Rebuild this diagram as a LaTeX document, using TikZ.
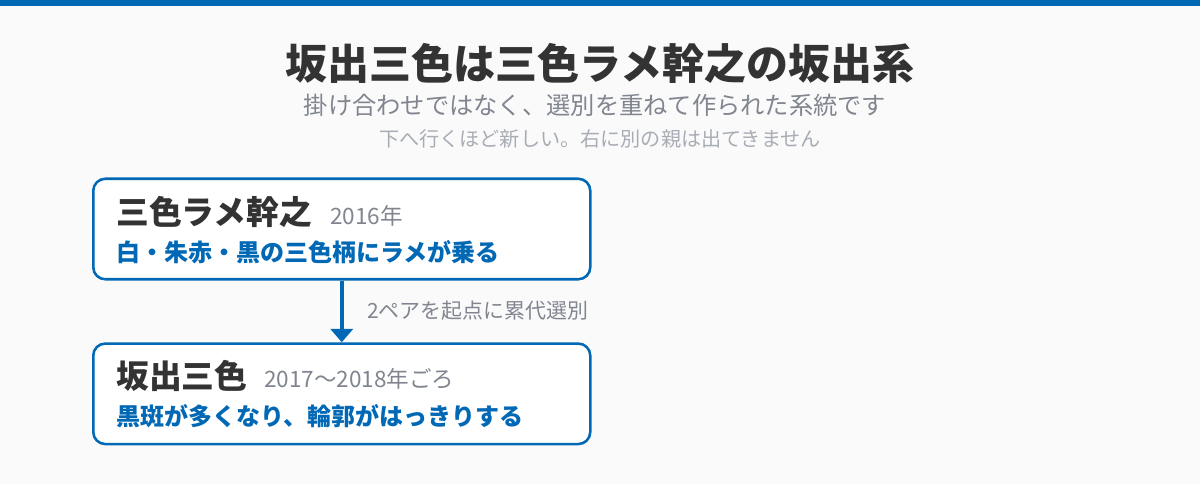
\documentclass[tikz,border=0pt]{standalone}
\usepackage{fontspec}
\setmainfont{Noto Sans CJK JP}
\usetikzlibrary{arrows.meta}
\definecolor{bluemain}{HTML}{0068B5}
\definecolor{darktext}{HTML}{333333}
\definecolor{graytext}{HTML}{80858F}
\definecolor{lightgray}{HTML}{A8ADB5}
\definecolor{bgcol}{HTML}{FAFAFA}
\tikzset{
  card/.style={draw=bluemain, line width=1.9pt, fill=white, rounded corners=9pt, minimum width=497*0.75pt, minimum height=100.5*0.75pt, inner sep=0pt},
  txt/.style={inner sep=0pt, anchor=base west},
  ctxt/.style={inner sep=0pt, anchor=base},
  cardtitle/.style={txt, text=darktext, font=\fontsize{24.6pt}{28pt}\selectfont\bfseries},
  cardyear/.style={txt, text=graytext, font=\fontsize{16.9pt}{20pt}\selectfont},
  carddesc/.style={txt, text=bluemain, font=\fontsize{18pt}{22pt}\selectfont\bfseries},
  flow/.style={draw=bluemain, line width=2.6pt, -{Triangle[length=10pt, width=16.5pt]}},
}
\begin{document}
\begin{tikzpicture}[x=0.75pt, y=-0.75pt]
\fill[bgcol] (0,0) rectangle (1200,484);
\useasboundingbox (0,0) rectangle (1200,484);
\fill[bluemain] (0,0) rectangle (1200,6);
\node[ctxt, text=darktext, font=\fontsize{31.5pt}{36pt}\selectfont\bfseries] (title) at (600,80) {坂出三色は三色ラメ幹之の坂出系};
\node[ctxt, text=graytext, font=\fontsize{18.2pt}{22pt}\selectfont] (sub) at (595,115) {掛け合わせではなく、選別を重ねて作られた系統です};
\node[ctxt, text=lightgray, font=\fontsize{15.1pt}{18pt}\selectfont] (note) at (600,147) {下へ行くほど新しい。右に別の親は出てきません};
\node[card, anchor=north west] (b1) at (92,177.5) {};
\node[card, anchor=north west] (b2) at (92,342.3) {};
\node[cardtitle] (t1) at (116,225) {三色ラメ幹之};
\node[cardyear] (y1) at (330,225) {2016年};
\node[carddesc] (d1) at (116,262) {白・朱赤・黒の三色柄にラメが乗る};
\node[cardtitle] (t2) at (116,389) {坂出三色};
\node[cardyear] (y2) at (264,388) {2017〜2018年ごろ};
\node[carddesc] (d2) at (116,426) {黒斑が多くなり、輪郭がはっきりする};
\draw[flow] (b1.south) -- (b2.north);
\node[txt, text=graytext, font=\fontsize{15.7pt}{20pt}\selectfont] (lab) at (367,319) {2ペアを起点に累代選別};
\end{tikzpicture}
\end{document}
